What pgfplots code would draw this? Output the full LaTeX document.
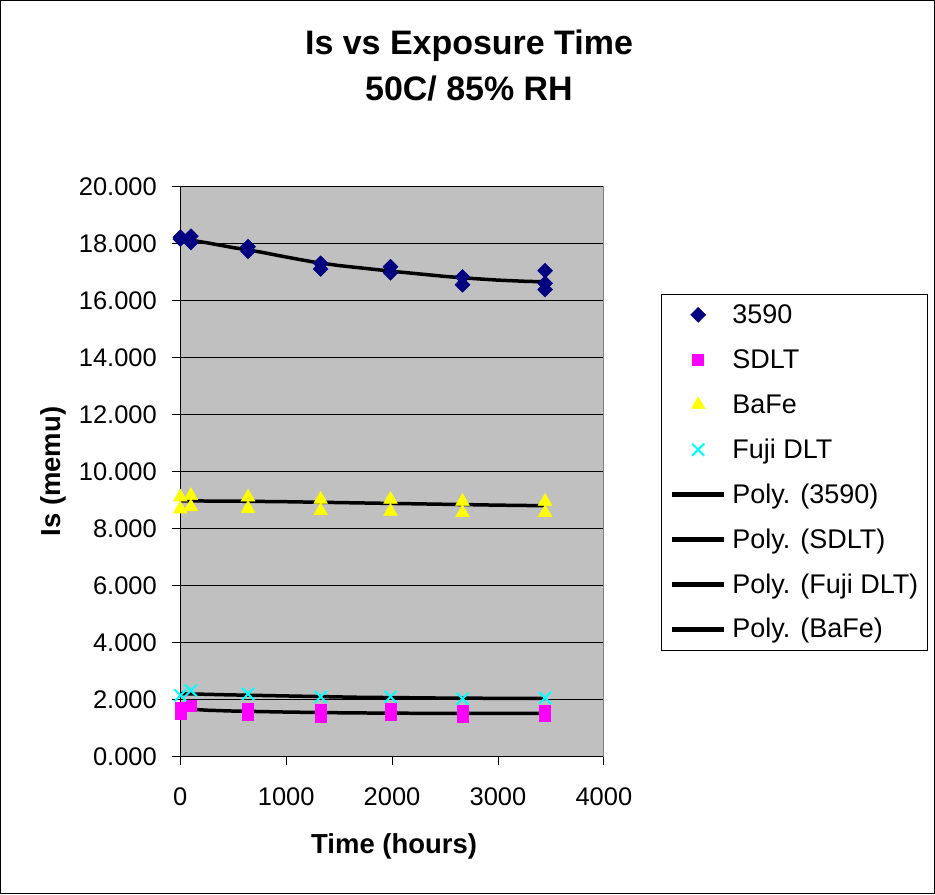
\documentclass[border=0pt]{standalone}
\usepackage{fontspec}
\setmainfont{Liberation Sans}
\usepackage{pgfplots}
\pgfplotsset{compat=1.18}
\definecolor{plotgray}{RGB}{192,192,192}
\definecolor{navyb}{RGB}{0,0,128}
\definecolor{magb}{RGB}{255,0,255}
\definecolor{yelb}{RGB}{255,255,0}
\definecolor{cyab}{RGB}{0,255,255}
\begin{document}
\begin{tikzpicture}
\draw[black, line width=1pt] (-180pt,-137pt) rectangle (755pt,757pt);
\begin{axis}[
  at={(0pt,0pt)}, anchor=south west,
  scale only axis, width=424pt, height=571pt,
  xmin=0, xmax=4000, ymin=0, ymax=20,
  xtick={0,1000,2000,3000,4000},
  ytick={0,2,4,6,8,10,12,14,16,18,20},
  axis background/.style={fill=plotgray},
  axis x line*=bottom, axis y line*=left,
  axis line style={black, line width=0.8pt, -},
  tick align=outside, major tick length=8pt,
  tick style={black, line width=0.8pt},
  ymajorgrids, major grid style={black, line width=0.8pt},
  /pgf/number format/assume math mode=true,
  tick label style={font=\fontsize{25.5}{30}\selectfont},
  yticklabel style={/pgf/number format/fixed, /pgf/number format/fixed zerofill, /pgf/number format/precision=3, xshift=-12pt},
  xticklabel style={/pgf/number format/set thousands separator={}, /pgf/number format/fixed, yshift=-20pt},
  legend style={at={(rel axis cs:1.1344,0.8109)}, anchor=north west,
    draw=black, fill=white,
    font=\fontsize{27}{32}\selectfont,
    inner xsep=9pt, inner ysep=9pt,
    row sep=22pt, column sep=6pt,
    nodes={inner sep=0pt, text height=20pt, text depth=3pt}},
  legend cell align=left,
  legend image code/.code={\draw[mark repeat=2,mark phase=2,#1,line width=4.5pt] plot coordinates {(0pt,0pt) (26pt,0pt) (52pt,0pt)};},
  clip=false,
]
% 3590
\addplot[only marks, mark=square*, mark size=5.3pt, mark options={rotate=45, draw=navyb, fill=navyb, line width=0.5pt}] coordinates {
 (0,18.15) (0,18.22) (100,18.25) (100,18.03) (640,17.88) (640,17.72)
 (1325,17.30) (1325,17.10) (1985,17.18) (1985,16.97) (2665,16.82) (2665,16.55)
 (3445,17.04) (3445,16.60) (3445,16.38)};
\addlegendentry{3590}
% SDLT
\addplot[only marks, mark=square*, mark size=5.5pt, mark options={draw=magb, fill=magb, line width=0.5pt}] coordinates {
 (0,1.72) (0,1.50) (100,1.80) (640,1.68) (640,1.47) (1325,1.66) (1325,1.40)
 (1985,1.68) (1985,1.47) (2665,1.62) (2665,1.40) (3445,1.62) (3445,1.44)};
\addlegendentry{SDLT}
% BaFe
\addplot[only marks, mark=triangle*, mark size=8pt, mark options={draw=yelb, fill=yelb, line width=0.5pt}] coordinates {
 (0,9.10) (0,8.68) (100,9.15) (100,8.76) (640,9.10) (640,8.70)
 (1325,9.02) (1325,8.62) (1985,9.02) (1985,8.60) (2665,8.95) (2665,8.55)
 (3445,8.95) (3445,8.55)};
\addlegendentry{BaFe}
% Fuji DLT
\addplot[only marks, mark=x, mark size=8.5pt, mark options={draw=cyab, line width=2pt}] coordinates {
 (0,2.15) (100,2.32) (640,2.20) (1325,2.10) (1985,2.10) (2665,2.03) (3445,2.06)};
\addlegendentry{Fuji DLT}
% trend lines
\addplot[black, line width=3.5pt, mark=none] coordinates {
 (0,18.17) (250,18.02) (500,17.85) (750,17.70) (1000,17.52) (1250,17.35) (1500,17.22)
 (1750,17.12) (2000,17.02) (2250,16.93) (2500,16.84) (2750,16.77) (3000,16.71)
 (3250,16.67) (3445,16.65)};
\addlegendentry{Poly. (3590)}
\addplot[black, line width=3.5pt, mark=none] coordinates {
 (0,1.69) (250,1.63) (500,1.60) (1000,1.565) (1500,1.54) (2000,1.525) (2500,1.52)
 (3000,1.52) (3445,1.52)};
\addlegendentry{Poly. (SDLT)}
\addplot[black, line width=3.5pt, mark=none] coordinates {
 (0,2.21) (436,2.17) (1000,2.13) (1650,2.085) (2500,2.055) (3445,2.04)};
\addlegendentry{Poly. (Fuji DLT)}
\addplot[black, line width=3.5pt, mark=none] coordinates {
 (0,8.97) (500,8.96) (1000,8.94) (1500,8.91) (2000,8.88) (2500,8.85) (3000,8.82) (3445,8.80)};
\addlegendentry{Poly. (BaFe)}
\draw[gray, line width=0.8pt] (rel axis cs:1,0) -- (rel axis cs:1,1);
\end{axis}
\node[font=\bfseries\fontsize{34}{40}\selectfont] at (289pt,712pt) {Is vs Exposure Time};
\node[font=\bfseries\fontsize{34}{40}\selectfont] at (289pt,669pt) {50C/ 85\% RH};
\node[font=\bfseries\fontsize{27.5}{32}\selectfont, rotate=90] at (-127pt,285.5pt) {Is (memu)};
\node[font=\bfseries\fontsize{27.5}{32}\selectfont] at (214pt,-90pt) {Time (hours)};
\end{tikzpicture}
\end{document}
